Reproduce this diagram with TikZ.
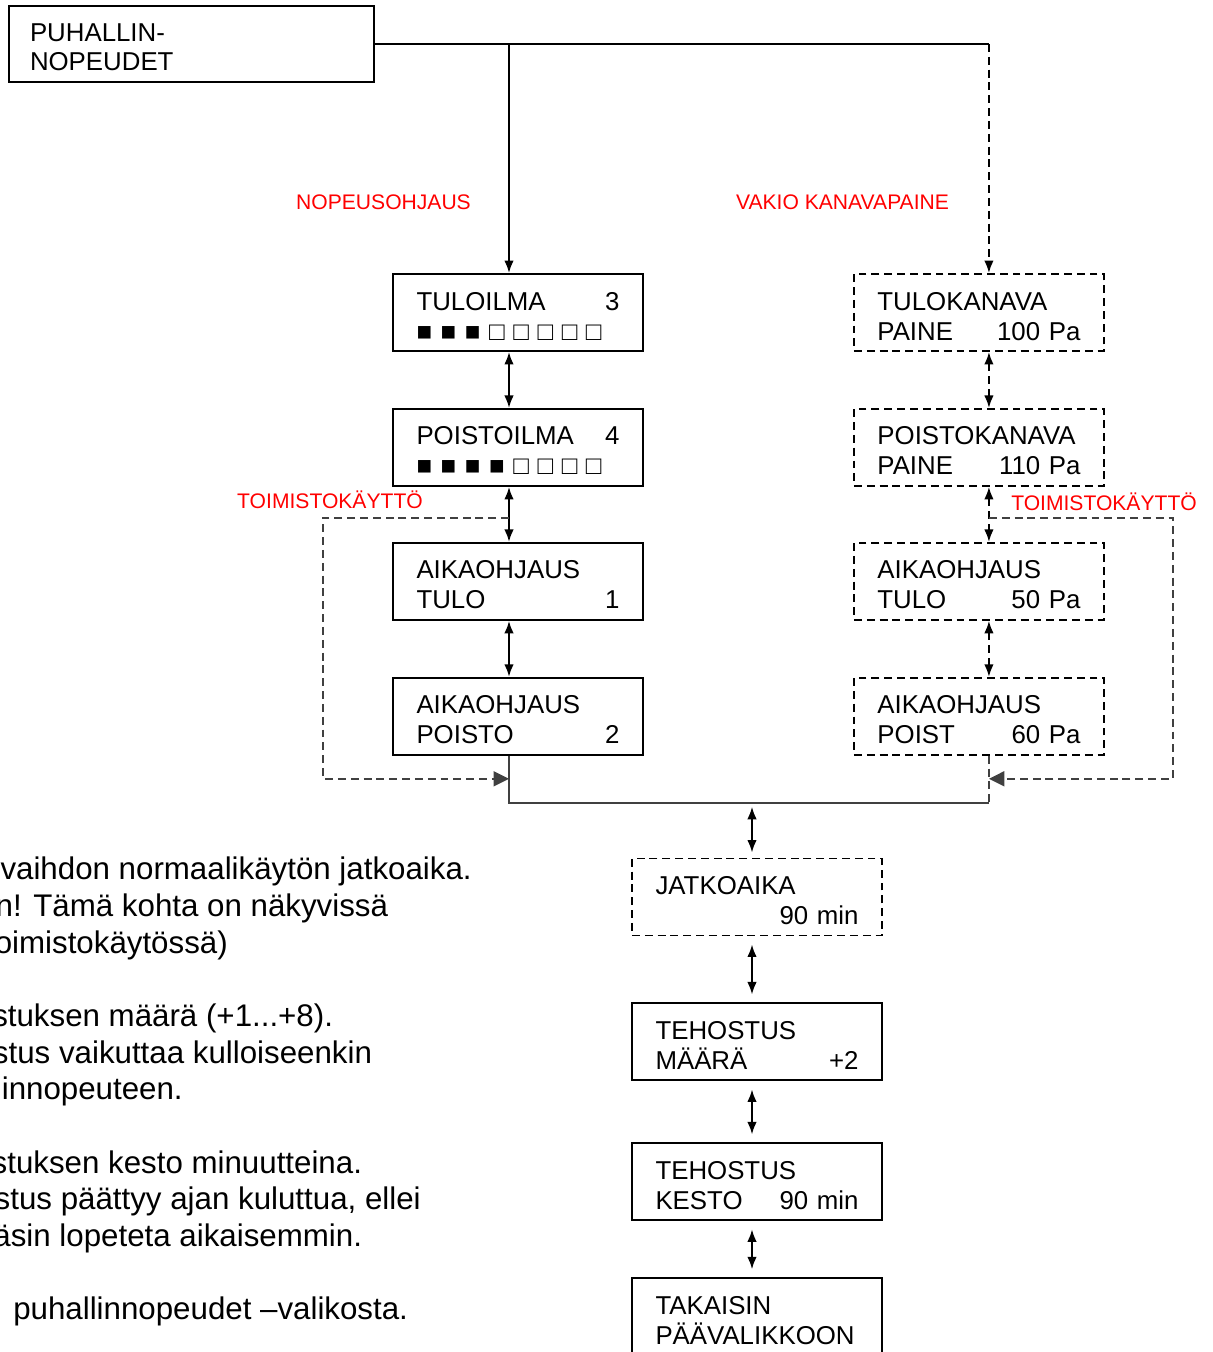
\documentclass[tikz,border=0pt]{standalone}
\usepackage{fontspec}
\setmainfont{Liberation Sans}
\usetikzlibrary{positioning,arrows.meta}
\hyphenpenalty=10000

\begin{document}
\begin{tikzpicture}[node distance=1.12cm,>={Latex[length=0.25cm,width=0.19cm]},line width=1.1pt,font=\fontsize{14.7}{17.07}\selectfont]
    \tikzstyle{box}=[draw,rectangle,minimum width=5cm,text width=4.06cm,align=left,inner ysep=0pt,text height=0.72cm,text depth=0.82cm]
    \tikzstyle{dline}=[dash pattern=on 4.5pt off 2.8pt]
    \tikzstyle{dbox}=[box,dline]
    \tikzstyle{lbl}=[text=red,font=\fontsize{12}{14}\selectfont,anchor=base,inner sep=0pt]
    \tikzstyle{office}=[black!75,dline,-{Triangle[length=0.31cm,width=0.3cm]}]
    \tikzstyle{spaced}=[shorten <=0.16cm,shorten >=0.16cm]
    \tikzstyle{note}=[anchor=base east,inner sep=0pt,font=\fontsize{17.8}{20}\selectfont]

    \useasboundingbox (0,0) rectangle (24.24,-27.04);

    \node[draw,rectangle,minimum width=7.3cm,text width=6.46cm,inner xsep=0.42cm,align=left,inner ysep=0pt,text height=0.7cm,text depth=0.82cm] (puh) at (3.83,-0.88) {PUHALLIN-\\NOPEUDET};

    % nopeusohjaus
    \node[box] (tuloilma) at (10.36,-6.25) {TULOILMA \hfill 3\\■ ■ ■ □ □ □ □ □};
    \node[box,below=of tuloilma] (poistoilma) {POISTOILMA \hfill 4\\■ ■ ■ ■ □ □ □ □};
    \node[box,below=1.1cm of poistoilma] (aikatulo) {AIKAOHJAUS\\TULO \hfill 1};
    \node[box,below=of aikatulo] (aikapoisto) {AIKAOHJAUS\\POISTO \hfill 2\hspace*{0.24cm}};

    % vakio kanavapaine
    \node[dbox,right=4.18cm of tuloilma] (tulokanava) {TULOKANAVA\\PAINE \hfill 100 Pa};
    \node[dbox,below=of tulokanava] (poistokanava) {POISTOKANAVA\\PAINE \hfill 110 Pa};
    \node[dbox,below=1.1cm of poistokanava] (aikatulo2) {AIKAOHJAUS\\TULO \hfill 50 Pa};
    \node[dbox,below=of aikatulo2] (aikapoist) {AIKAOHJAUS\\POIST \hfill 60 Pa};

    % tehostus
    \node[dbox] (jatko) at (15.14,-17.94) {JATKOAIKA\\\mbox{}\hfill 90 min};
    \node[box,below=1.32cm of jatko] (maara) {TEHOSTUS\\MÄÄRÄ \hfill +2};
    \node[box,below=1.22cm of maara] (kesto) {TEHOSTUS\\KESTO \hfill 90 min};
    \node[box,below=1.12cm of kesto] (takaisin) {TAKAISIN\\PÄÄVALIKKOON};

    \node[lbl] (nopeus) at (7.67,-4.186) {NOPEUSOHJAUS};
    \node[lbl] (vakio) at (16.85,-4.186) {VAKIO KANAVAPAINE};
    \node[lbl] (toimisto1) at (6.6,-10.166) {TOIMISTOKÄYTTÖ};
    \node[lbl] (toimisto2) at (22.08,-10.214) {TOIMISTOKÄYTTÖ};

    \coordinate (lcol) at ([xshift=-0.18cm]tuloilma.north);
    \coordinate (rcol) at ([xshift=0.2cm]tulokanava.north);
    \coordinate (bcol) at ([xshift=-0.1cm]jatko.north);

    \draw (puh.east) -- (rcol |- puh.east);
    \draw[->] (lcol |- puh.east) -- (lcol);
    \draw[->,dline] (rcol |- puh.east) -- (rcol);

    \draw[<->] (lcol |- tuloilma.south) -- (lcol |- poistoilma.north);
    \draw[<->] (lcol |- poistoilma.south) -- (lcol |- aikatulo.north);
    \draw[<->] (lcol |- aikatulo.south) -- (lcol |- aikapoisto.north);
    \draw[<->,dline] (rcol |- tulokanava.south) -- (rcol |- poistokanava.north);
    \draw[<->,dline] (rcol |- poistokanava.south) -- (rcol |- aikatulo2.north);
    \draw[<->,dline] (rcol |- aikatulo2.south) -- (rcol |- aikapoist.north);

    \coordinate (lsplit) at ([yshift=-0.62cm]poistoilma.south);
    \coordinate (lend) at ([yshift=-0.46cm]aikapoisto.south);
    \coordinate (rsplit) at ([yshift=-0.62cm]poistokanava.south);
    \coordinate (rend) at ([yshift=-0.46cm]aikapoist.south);
    \draw[office] (lcol |- lsplit) -- ++(-3.72,0) |- (lcol |- lend);
    \draw[office] (rcol |- rsplit) -- ++(3.68,0) |- (rcol |- rend);

    \coordinate (mrg) at ([yshift=-0.94cm]aikapoist.south);
    \draw[black!75] (lcol |- aikapoisto.south) |- (rcol |- mrg);
    \draw[black!75,dline] (rcol |- aikapoist.south) -- (rcol |- mrg);
    \draw[<->,shorten <=0.08cm,shorten >=0.1cm] (bcol |- mrg) -- (bcol);

    \draw[<->,spaced] (bcol |- jatko.south) -- (bcol |- maara.north);
    \draw[<->,spaced] (bcol |- maara.south) -- (bcol |- kesto.north);
    \draw[<->,spaced] (bcol |- kesto.south) -- (bcol |- takaisin.north);

    % ohjeteksti
    \foreach \n/\x/\y/\t in {1/9.454/-17.59/{vaihdon normaalikäytön jatkoaika.},
        2/7.78/-18.32/{n! Tämä kohta on näkyvissä},
        3/4.574/-19.06/{oimistokäytössä)},
        4/6.68/-20.52/{stuksen määrä (+1...+8).},
        5/7.46/-21.26/{stus vaikuttaa kulloiseenkin},
        6/3.674/-21.99/{innopeuteen.},
        7/7.26/-23.46/{stuksen kesto minuutteina.},
        8/8.434/-24.19/{stus päättyy ajan kuluttua, ellei},
        9/7.26/-24.92/{äsin lopeteta aikaisemmin.},
        10/8.18/-26.39/{puhallinnopeudet –valikosta.}}
        \node[note] (note\n) at (\x,\y) {\t};

\end{tikzpicture}
\end{document}
